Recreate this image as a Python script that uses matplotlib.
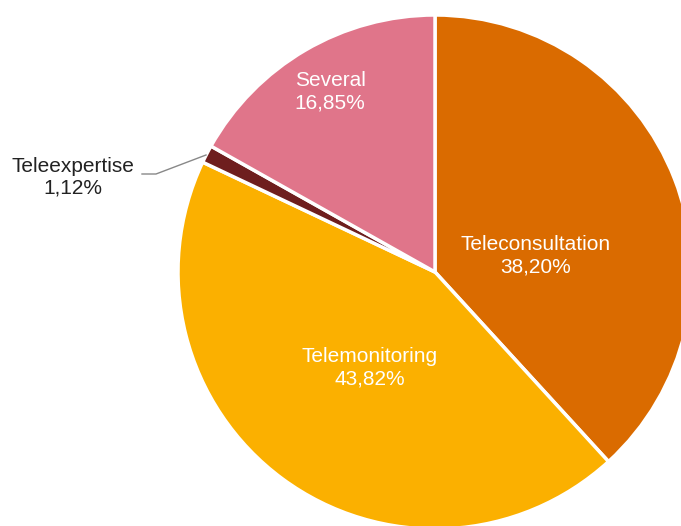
import matplotlib.pyplot as plt

# data
categories = ["Teleconsultation", "Telemonitoring", "Teleexpertise", "Several"]
shares = [38.20, 43.82, 1.12, 16.85]
colors = ["#DA6B00", "#FBB000", "#6E1E1E", "#E0758A"]

plt.rcParams["font.family"] = ["Liberation Sans", "DejaVu Sans"]

fig = plt.figure(figsize=(6.81, 5.26), dpi=100)
ax = fig.add_axes([0, 0, 1, 1])

W, H = 681, 526
cx, cy, r = 435, H - 272, 257

ax.pie(shares, colors=colors, startangle=90, counterclock=False,
       center=(cx, cy), radius=r, frame=True,
       wedgeprops={"edgecolor": "white", "linewidth": 2.5})
ax.set_xlim(0, W)
ax.set_ylim(0, H)
ax.set_aspect("equal")
ax.axis("off")

def lbl(i):
    return "{}\n{}%".format(categories[i], ("%.2f" % shares[i]).replace(".", ","))

fs = 15
# labels inside slices (pixel positions)
ax.text(536, H - 256, lbl(0), color="white", fontsize=fs, ha="center", va="center", linespacing=1.2)
ax.text(370, H - 368, lbl(1), color="white", fontsize=fs, ha="center", va="center", linespacing=1.2)
ax.text(330, H - 92, lbl(3), color="white", fontsize=fs, ha="center", va="center", linespacing=1.2)

# outside label with leader line
ax.text(73, H - 177, lbl(2), color="#222222", fontsize=fs, ha="center", va="center", linespacing=1.2)
ax.plot([142, 156, 206], [H - 174, H - 174, H - 155], color="#888888", linewidth=1)

fig.savefig("out.png", dpi=100)
